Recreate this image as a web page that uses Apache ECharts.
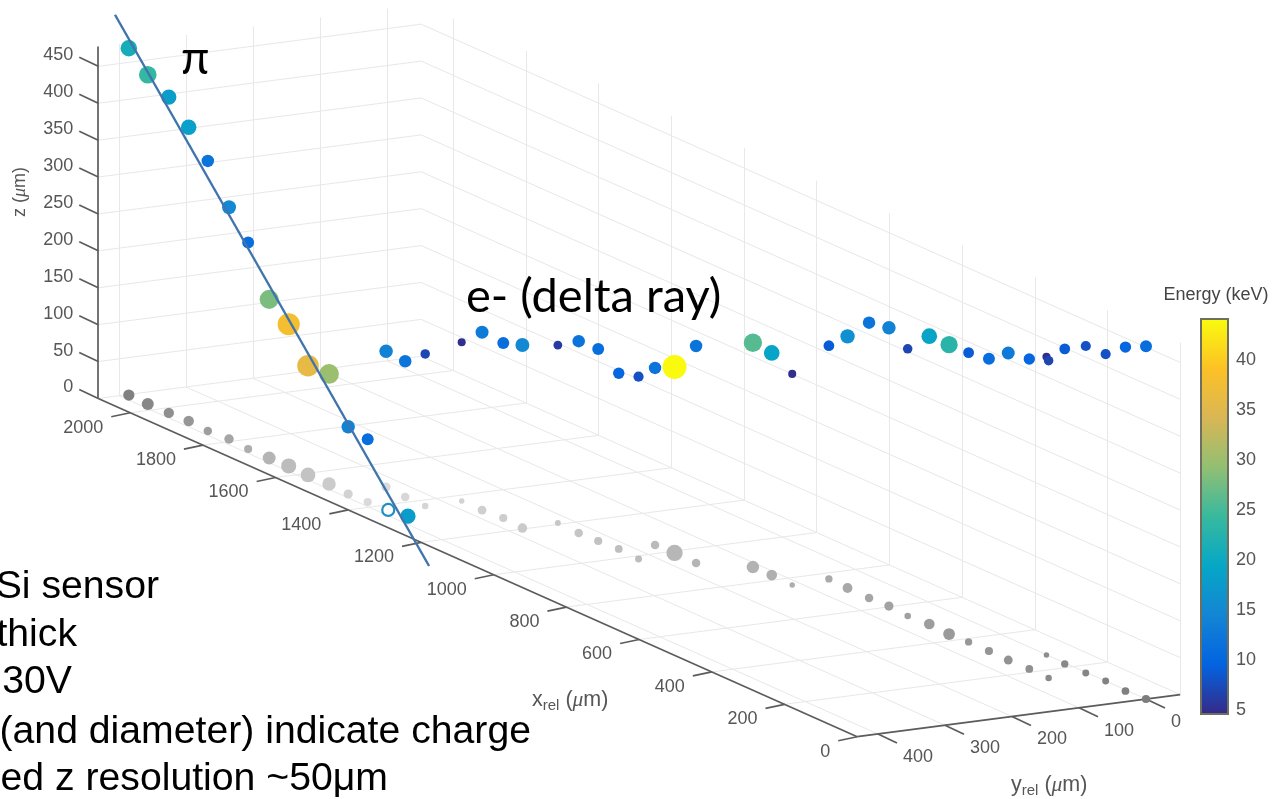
<!DOCTYPE html>
<html>
<head>
<meta charset="utf-8">
<style>html,body{margin:0;padding:0;background:#fff}#c{width:1272px;height:799px}</style>
<script src="https://cdn.jsdelivr.net/npm/echarts@6/dist/echarts.min.js"></script>
</head>
<body>
<div id="c"></div>
<script>
// ---- data (micrometres, keV) ----
var piXrel = [2085,2031,1975,1924,1864,1813,1753,1697,1647,1592,1536,1476,1426,1319];
var piYrel = [387,388,387,385,389,385,389,388,386,387,386,390,388,386];
var piZ    = [470,446,428,398,366,314,280,215,192,148,149,91,85,4];
var piE    = [21,24,18,18.5,12,15,11,28,38,36,30,14,11,18];

var openXrel = [1375], openYrel = [385], openZ = [0];

var eXrel = [1486,1426,1371,1372,1316,1265,1205,1207,1146,1096,1045,985,1041,991,930,875,825,765,771,716,655,604,545,493,433,383,327,272,216,272,161,218,162,111,51,0];
var eYrel = [328,332,332,277,277,273,277,223,225,223,220,223,168,166,167,112,111,113,55,57,58,56,60,56,59,57,57,58,57,1,58,3,2,0,3,0];
var eZ    = [184,184,206,215,241,237,248,241,260,260,238,247,240,252,294,304,301,286,316,341,373,377,362,390,392,392,396,416,420,404,430,427,443,443,466,478];
var eE    = [14,12,7,5,13,11,15,6,12,11,10,8,12,44,12,26,19,5,9,16,12,14,7,19,23,9,11,13,10,5,7,9,8,8,10,11];

var piLineXrel = [2123,1082], piLineYrel = [387,483], piLineZ = [507,0];

var xTicks = [0,200,400,600,800,1000,1200,1400,1600,1800,2000];
var yTicks = [0,100,200,300,400];
var zTicks = [0,50,100,150,200,250,300,350,400,450];
var cbarTicks = [5,10,15,20,25,30,35,40];
var xLimits = [0,2088], yLimits = [-51,431], zLimits = [0,477];
var energyLimits = [4.6,44.1];
var parula = ['#352A87','#0363E1','#1485D4','#06A7C6','#38B99E','#92BF73','#D9B655','#FDC125','#F9FB0E'];

var noteLines = ['Si sensor','thick','30V','(and diameter) indicate charge','ed z resolution ~50\u03BCm'];

// ---- view of the 3-D box onto the page ----
function proj(x,y,z){ return [1146-0.3635*x-0.67*y, 699-0.162*x+0.0875*y-0.738*z]; }
function seg(a,b){ return {coords:[a,b]}; }

var gridSegs = [];
xTicks.forEach(function(x){
  gridSegs.push(seg(proj(x,yLimits[0],0),proj(x,yLimits[1],0)));
  gridSegs.push(seg(proj(x,yLimits[0],0),proj(x,yLimits[0],zLimits[1])));
});
yTicks.forEach(function(y){
  gridSegs.push(seg(proj(xLimits[0],y,0),proj(xLimits[1],y,0)));
  gridSegs.push(seg(proj(xLimits[1],y,0),proj(xLimits[1],y,zLimits[1])));
});
zTicks.forEach(function(z){
  gridSegs.push(seg(proj(xLimits[1],yLimits[1],z),proj(xLimits[1],yLimits[0],z)));
  gridSegs.push(seg(proj(xLimits[1],yLimits[0],z),proj(xLimits[0],yLimits[0],z)));
});

function add(p,dx,dy){ return [p[0]+dx,p[1]+dy]; }
var axisSegs = [
  seg(proj(xLimits[1],yLimits[1],0),proj(xLimits[0],yLimits[1],0)),
  seg(proj(xLimits[0],yLimits[1],0),proj(xLimits[0],yLimits[0],0)),
  seg(proj(xLimits[1],yLimits[1],0),proj(xLimits[1],yLimits[1],zLimits[1]))
];
xTicks.forEach(function(x){ var p=proj(x,yLimits[1],0); axisSegs.push(seg(p,add(p,-19,4))); });
yTicks.forEach(function(y){ var p=proj(xLimits[0],y,0); axisSegs.push(seg(p,add(p,19,9))); });
zTicks.forEach(function(z){ var p=proj(xLimits[1],yLimits[1],z); axisSegs.push(seg(p,add(p,-19,-9))); });

function labelSeries(values,pointOf,align,dx,dy){
  return {
    type:'scatter',silent:true,symbolSize:1,itemStyle:{color:'rgba(0,0,0,0)',opacity:1},z:6,
    data:values.map(function(v){ var p=pointOf(v); return {value:p,name:String(v)}; }),
    label:{show:true,position:'inside',formatter:'{b}',align:align,verticalAlign:'middle',offset:[dx,dy],
      fontFamily:'Liberation Sans',fontSize:18,color:'#565656'}
  };
}

function track(xs,ys,zs,es){ return xs.map(function(x,i){ var p=proj(x,ys[i],zs[i]); return [p[0],p[1],es[i]]; }); }
function floorMarks(xs,ys,es,from,to){
  return xs.map(function(x,i){
    var p=proj(x,ys[i],0), t=i/(xs.length-1), g=Math.round(from+(to-from)*t);
    return {value:[p[0],p[1],es[i]],itemStyle:{color:'rgb('+g+','+g+','+g+')',opacity:1}};
  });
}
function dot(v){ return 3.6*Math.sqrt(v[2]); }
function floorDot(v){ return 2.45*Math.sqrt(v[2]); }

function pageText(t,x,y,size,family,align,color){
  return {type:'text',silent:true,x:x,y:y,z:10,style:{text:t,fontSize:size,fontFamily:family,textAlign:align||'left',textVerticalAlign:'middle',fill:color||'#000'}};
}
function axisTitle(a,x,y){
  return {type:'text',silent:true,x:x,y:y,z:10,style:{
    text:'{a|'+a+'}{s|rel}{a| (}{m|\u03BC}{a|m)}',
    textVerticalAlign:'middle',
    rich:{
      a:{fontFamily:'Liberation Sans',fontSize:21.5,fill:'#565656',verticalAlign:'middle'},
      s:{fontFamily:'Liberation Sans',fontSize:15,fill:'#565656',verticalAlign:'top',padding:[12,0,0,0]},
      m:{fontFamily:'Liberation Serif',fontStyle:'italic',fontSize:21.5,fill:'#565656'}
    }
  }};
}

var chart = echarts.init(document.getElementById('c'),null,{renderer:'canvas'});
chart.setOption({
  animation:false,
  backgroundColor:'#fff',
  grid:[
    {left:0,top:0,width:1272,height:799},
    {left:1201,top:319,width:27,height:395,show:true,borderColor:'#6f6f5f',borderWidth:2,backgroundColor:'transparent',z:3}
  ],
  xAxis:[
    {gridIndex:0,type:'value',min:0,max:1272,show:false},
    {gridIndex:1,type:'category',data:['Energy'],show:false}
  ],
  yAxis:[
    {gridIndex:0,type:'value',min:0,max:799,inverse:true,show:false},
    {gridIndex:1,type:'value',min:energyLimits[0],max:energyLimits[1],position:'right',
      splitLine:{show:false},axisLine:{show:false},
      axisTick:{show:true,inside:true,length:4,customValues:cbarTicks,lineStyle:{color:'#333',width:1.5}},
      axisLabel:{show:true,customValues:cbarTicks,margin:8,fontFamily:'Liberation Sans',fontSize:18,color:'#565656'}}
  ],
  visualMap:[{show:false,type:'continuous',seriesIndex:[6],dimension:2,min:energyLimits[0],max:energyLimits[1],inRange:{color:parula}}],
  series:[
    {type:'lines',coordinateSystem:'cartesian2d',silent:true,z:1,data:gridSegs,lineStyle:{color:'#e8e8e8',width:1,opacity:1}},
    {type:'lines',coordinateSystem:'cartesian2d',silent:true,z:2,data:axisSegs,lineStyle:{color:'#5c5c5c',width:1.7,opacity:1}},
    labelSeries(xTicks,function(v){return proj(v,yLimits[1],0);},'right',-27,15),
    labelSeries(yTicks,function(v){return proj(xLimits[0],v,0);},'left',25,23),
    labelSeries(zTicks,function(v){return proj(xLimits[1],yLimits[1],v);},'right',-25,-11),
    {type:'scatter',silent:true,z:3,symbolSize:floorDot,
      data:floorMarks(piXrel,piYrel,piE,128,225).concat(floorMarks(eXrel,eYrel,eE,218,125))},
    {type:'scatter',silent:true,z:4,symbolSize:dot,itemStyle:{opacity:1},
      data:track(piXrel,piYrel,piZ,piE).concat(track(eXrel,eYrel,eZ,eE))},
    {type:'line',silent:true,z:5,symbol:'none',
      data:piLineXrel.map(function(x,i){return proj(x,piLineYrel[i],piLineZ[i]);}),
      lineStyle:{color:'#3f74ad',width:2.4}},
    {type:'scatter',silent:true,z:4,symbolSize:12,
      data:openXrel.map(function(x,i){return proj(x,openYrel[i],openZ[i]);}),
      itemStyle:{color:'#fff',borderColor:'#1d8fc4',borderWidth:2.2,opacity:1}},
    {type:'bar',xAxisIndex:1,yAxisIndex:1,silent:true,barWidth:'100%',z:2,
      data:[energyLimits[1]],
      itemStyle:{color:new echarts.graphic.LinearGradient(0,1,0,0,parula.map(function(c,i){return {offset:i/(parula.length-1),color:c};}))}}
  ],
  graphic:[
    pageText('\u03C0',181,59,46,'Lato'),
    pageText('e- (delta ray)',466,297,47,'Lato'),
    pageText(noteLines[0],159,587,39.2,'Liberation Sans','right'),
    pageText(noteLines[1],77,635,39.2,'Liberation Sans','right'),
    pageText(noteLines[2],72,682,39.2,'Liberation Sans','right'),
    pageText(noteLines[3],531,732,39.2,'Liberation Sans','right'),
    pageText(noteLines[4],388,779,39.2,'Liberation Sans','right'),
    pageText('Energy (keV)',1216,295,18,'Liberation Sans','center','#444'),
    {type:'text',silent:true,x:20,y:192,rotation:Math.PI/2,z:10,style:{
      text:'{a|z (}{m|\u03BC}{a|m)}',textAlign:'center',textVerticalAlign:'middle',
      rich:{a:{fontFamily:'Liberation Sans',fontSize:18,fill:'#565656'},m:{fontFamily:'Liberation Serif',fontStyle:'italic',fontSize:18,fill:'#565656'}}
    }},
    axisTitle('x',532,700),
    axisTitle('y',1011,785)
  ]
});
</script>
</body>
</html>
